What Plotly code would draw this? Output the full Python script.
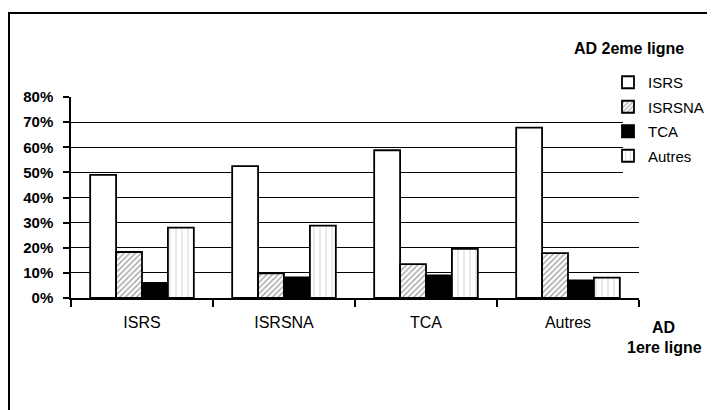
import plotly.graph_objects as go

categories = ["ISRS", "ISRSNA", "TCA", "Autres"]
series_names = ["ISRS", "ISRSNA", "TCA", "Autres"]
isrs = [0.49, 0.525, 0.588, 0.678]
isrsna = [0.183, 0.098, 0.135, 0.179]
tca = [0.06, 0.082, 0.09, 0.07]
autres = [0.28, 0.288, 0.196, 0.081]
y_ticks = [0, 0.1, 0.2, 0.3, 0.4, 0.5, 0.6, 0.7, 0.8]

FONT = "Liberation Sans"
OFF = 8  # default page body margin
W, H = 715 - OFF, 410 - OFF
# plot area in page pixels
PX0, PX1, PY0, PY1 = 71, 639, 97, 298
L, T = PX0 - OFF, PY0 - OFF
R, B = W - (PX1 - OFF), H - (PY1 - OFF)
pw, ph = PX1 - PX0, PY1 - PY0

styles = [
    dict(color="white", pattern=None),
    dict(color="white", pattern=dict(shape="/", fgcolor="#444444", bgcolor="white", size=4, solidity=0.35)),
    dict(color="black", pattern=None),
    dict(color="white", pattern=dict(shape="|", fgcolor="#8a8a8a", bgcolor="white", size=6, solidity=0.12)),
]

fig = go.Figure()
for i, (name, vals) in enumerate(zip(series_names, [isrs, isrsna, tca, autres])):
    st = styles[i]
    marker = dict(color=st["color"], line=dict(color="black", width=1.8))
    if st["pattern"]:
        marker["pattern"] = st["pattern"]
    fig.add_trace(go.Bar(x=categories, y=vals, name=name, marker=marker,
                         legendgroup=name))

def px_x(x):
    return (x - PX0) / pw

def px_y(y):
    return (PY1 - y) / ph

def label(text, x, y):
    return dict(text=text, xref="paper", yref="paper", x=px_x(x), y=px_y(y),
                xanchor="center", yanchor="middle", showarrow=False,
                font=dict(family=FONT, size=16, color="black"))

fig.update_layout(
    width=W, height=H,
    margin=dict(l=L, r=R, t=T, b=B, autoexpand=False),
    paper_bgcolor="white", plot_bgcolor="white",
    barmode="group", bargap=0.27, bargroupgap=0,
    font=dict(family=FONT, size=15, color="black"),
    showlegend=True,
    legend=dict(x=px_x(608), y=px_y(66), xanchor="left", yanchor="top",
                bgcolor="rgba(0,0,0,0)", borderwidth=0,
                traceorder="grouped", tracegroupgap=2,
                font=dict(family=FONT, size=15, color="black"),
                itemwidth=30),
    xaxis=dict(showline=True, linecolor="black", linewidth=1.5,
               ticks="outside", tickson="boundaries", ticklen=7, tickcolor="black",
               tickwidth=1.5, ticklabelstandoff=9, showgrid=False,
               tickfont=dict(family=FONT, size=16, color="black")),
    yaxis=dict(range=[0, 0.8], tickvals=y_ticks, tickformat=".0%",
               showline=True, linecolor="black", linewidth=1.5,
               ticks="outside", ticklen=6, tickcolor="black", tickwidth=1.5,
               ticklabelstandoff=7,
               showgrid=True, gridcolor="black", gridwidth=1, zeroline=False,
               tickfont=dict(family=FONT, size=15, color="black", weight="bold")),
    shapes=[
        # outer frame (extends beyond the image on right/bottom)
        dict(type="rect", xref="paper", yref="paper", layer="above",
             x0=px_x(9), x1=px_x(800), y0=px_y(500), y1=px_y(13),
             line=dict(color="black", width=2), fillcolor="rgba(0,0,0,0)"),
        # white box behind legend covering gridlines
        dict(type="rect", xref="paper", yref="paper", layer="above",
             x0=px_x(623), x1=px_x(705), y0=px_y(186), y1=px_y(68),
             line=dict(width=0), fillcolor="white"),
    ],
    annotations=[
        label("<b>AD 2eme ligne</b>", 629, 49),
        label("<b>AD</b>", 663, 327),
        label("<b>1ere ligne</b>", 664, 347),
    ],
)

fig.write_html("out.html")
